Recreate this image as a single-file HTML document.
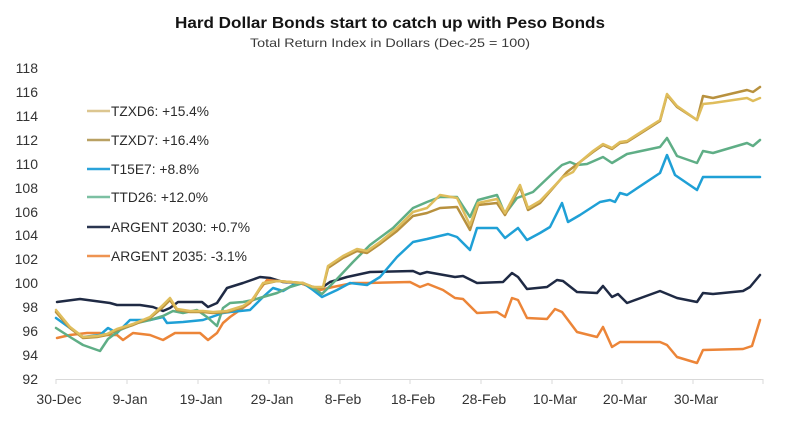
<!DOCTYPE html>
<html>
<head>
<meta charset="utf-8">
<style>
  html,body{margin:0;padding:0;background:#fff;}
  svg{display:block;}
  text{font-family:"Liberation Sans",Arial,sans-serif;}
</style>
</head>
<body>
<svg width="800" height="435" viewBox="0 0 800 435" xmlns="http://www.w3.org/2000/svg">
  <rect width="800" height="435" fill="#ffffff"/>
  <!-- Title -->
  <text x="390" y="28" text-anchor="middle" font-size="16" font-weight="bold" fill="#141414" textLength="430" lengthAdjust="spacingAndGlyphs">Hard Dollar Bonds start to catch up with Peso Bonds</text>
  <text x="390" y="47" text-anchor="middle" font-size="12" fill="#3a3a3a" textLength="280" lengthAdjust="spacingAndGlyphs">Total Return Index in Dollars (Dec-25 = 100)</text>

  <!-- Y axis labels -->
  <g font-size="14" fill="#333" text-anchor="end">
    <text x="38" y="73">118</text>
    <text x="38" y="97">116</text>
    <text x="38" y="121">114</text>
    <text x="38" y="145">112</text>
    <text x="38" y="169">110</text>
    <text x="38" y="193">108</text>
    <text x="38" y="217">106</text>
    <text x="38" y="240">104</text>
    <text x="38" y="264">102</text>
    <text x="38" y="288">100</text>
    <text x="38" y="312">98</text>
    <text x="38" y="336">96</text>
    <text x="38" y="360">94</text>
    <text x="38" y="384">92</text>
  </g>

  <!-- X axis -->
  <g stroke="#d9d9d9" stroke-width="1">
    <line x1="56" y1="379.5" x2="763" y2="379.5"/>
    <line x1="56" y1="379" x2="56" y2="384"/>
    <line x1="127" y1="379" x2="127" y2="384"/>
    <line x1="198" y1="379" x2="198" y2="384"/>
    <line x1="269" y1="379" x2="269" y2="384"/>
    <line x1="340" y1="379" x2="340" y2="384"/>
    <line x1="410" y1="379" x2="410" y2="384"/>
    <line x1="481" y1="379" x2="481" y2="384"/>
    <line x1="552" y1="379" x2="552" y2="384"/>
    <line x1="622" y1="379" x2="622" y2="384"/>
    <line x1="693" y1="379" x2="693" y2="384"/>
    <line x1="763" y1="379" x2="763" y2="384"/>
  </g>
  <g font-size="14" fill="#333" text-anchor="middle">
    <text x="59" y="404">30-Dec</text>
    <text x="130" y="404">9-Jan</text>
    <text x="201" y="404">19-Jan</text>
    <text x="272" y="404">29-Jan</text>
    <text x="343" y="404">8-Feb</text>
    <text x="413" y="404">18-Feb</text>
    <text x="484" y="404">28-Feb</text>
    <text x="555" y="404">10-Mar</text>
    <text x="625" y="404">20-Mar</text>
    <text x="696" y="404">30-Mar</text>
  </g>

  <!-- Series -->
  <g fill="none" stroke-width="2.5" stroke-linejoin="round" stroke-linecap="round">
    <!-- ARGENT 2030 -->
    <polyline stroke="#1f2a44" points="57,302 80,299 110,303 117,305 140,305 153,307 163,311 170,308 178,302 202,302 208,307 217,303 227,288 243,283 260,277 270,278 283,282 300,283 313,287 320,289 330,282 347,277 370,272 413,271 420,274 427,272 455,277 463,276 477,283 503,282 512,273 518,277 527,289 547,287 557,280 563,281 577,292 597,293 603,286 612,297 618,294 627,303 660,291 677,298 697,302 703,293 713,294 743,291 750,287 760,275"/>
    <!-- ARGENT 2035 -->
    <polyline stroke="#ec8538" points="57,338 70,335 87,333 100,333 108,335 117,335 123,340 133,333 150,335 163,340 175,333 200,333 208,340 217,333 223,323 230,317 240,310 250,303 257,293 267,280 277,281 290,282 300,283 313,288 320,290 333,287 353,283 367,283 410,282 420,287 428,284 443,290 455,298 463,299 477,313 497,312 505,317 512,298 518,300 527,318 547,319 555,309 562,312 577,332 597,337 603,327 612,347 620,342 660,342 667,345 677,357 697,363 703,350 743,349 752,346 760,320"/>
    <!-- T15E7 -->
    <polyline stroke="#1fa0d6" points="56,318 70,328 83,337 100,335 108,328 117,333 130,320 150,320 163,317 167,323 183,322 203,320 223,313 230,312 250,310 263,297 273,288 283,291 293,285 303,283 313,290 322,297 337,290 350,283 367,285 380,277 397,257 413,242 427,239 448,234 457,237 470,250 477,228 497,228 505,238 518,228 527,240 540,233 550,227 562,203 568,222 580,215 600,202 610,200 615,202 620,193 627,195 660,173 667,155 675,175 697,190 703,177 760,177"/>
    <!-- TTD26 -->
    <polyline stroke="#5fae86" points="56,328 70,337 83,345 100,351 108,339 120,330 137,323 150,320 163,316 173,311 183,313 197,310 207,317 217,326 223,308 230,303 243,302 253,300 263,297 277,293 290,287 303,283 313,288 322,294 337,279 353,262 370,245 393,228 413,208 427,202 440,197 457,197 470,217 478,200 497,195 505,214 517,198 533,192 553,173 562,165 570,162 577,165 587,164 603,157 612,163 627,154 660,147 667,138 677,156 697,163 703,151 713,153 747,143 753,146 760,140"/>
    <!-- TZXD7 -->
    <polyline stroke="#b8913e" points="56,312 70,328 83,338 97,337 107,335 117,330 133,325 150,318 163,307 170,300 177,310 190,312 203,312 213,313 227,312 243,307 253,300 263,284 277,281 290,282 303,283 313,287 323,288 328,268 343,258 357,251 367,253 380,244 397,231 413,216 427,213 440,208 457,207 470,230 478,205 497,203 505,215 520,187 528,210 540,203 560,180 567,172 580,162 593,152 603,145 612,149 620,143 627,142 660,121 667,95 677,107 697,120 703,96 713,98 747,90 753,92 760,87"/>
    <!-- TZXD6 -->
    <polyline stroke="#dfbd5c" points="56,310 70,327 83,337 97,336 107,334 117,329 133,324 150,317 163,305 170,298 177,309 190,311 203,311 213,312 227,311 243,306 253,299 263,283 277,281 290,282 303,283 313,287 323,287 328,266 343,256 357,249 367,251 380,242 397,228 413,212 427,208 440,195 457,198 470,225 478,203 497,199 505,213 520,185 528,208 540,201 563,177 573,172 580,162 593,151 603,144 612,148 620,142 627,141 660,120 667,94 677,106 697,120 703,104 713,103 747,98 753,101 760,98"/>
  </g>

  <!-- Legend -->
  <g stroke-width="2.5">
    <line x1="87" y1="111" x2="110" y2="111" stroke="#dcc690"/>
    <line x1="87" y1="140" x2="110" y2="140" stroke="#b9a163"/>
    <line x1="87" y1="169" x2="110" y2="169" stroke="#2aa3da"/>
    <line x1="87" y1="197" x2="110" y2="197" stroke="#7cc0a2"/>
    <line x1="87" y1="227" x2="110" y2="227" stroke="#2a3550"/>
    <line x1="87" y1="256" x2="110" y2="256" stroke="#ee9452"/>
  </g>
  <g font-size="14" fill="#2b2b2b">
    <text x="111" y="116" textLength="98" lengthAdjust="spacingAndGlyphs">TZXD6: +15.4%</text>
    <text x="111" y="145" textLength="98" lengthAdjust="spacingAndGlyphs">TZXD7: +16.4%</text>
    <text x="111" y="174" textLength="88" lengthAdjust="spacingAndGlyphs">T15E7: +8.8%</text>
    <text x="111" y="202" textLength="97" lengthAdjust="spacingAndGlyphs">TTD26: +12.0%</text>
    <text x="111" y="232" textLength="139" lengthAdjust="spacingAndGlyphs">ARGENT 2030: +0.7%</text>
    <text x="111" y="261" textLength="136" lengthAdjust="spacingAndGlyphs">ARGENT 2035: -3.1%</text>
  </g>
</svg>
</body>
</html>
